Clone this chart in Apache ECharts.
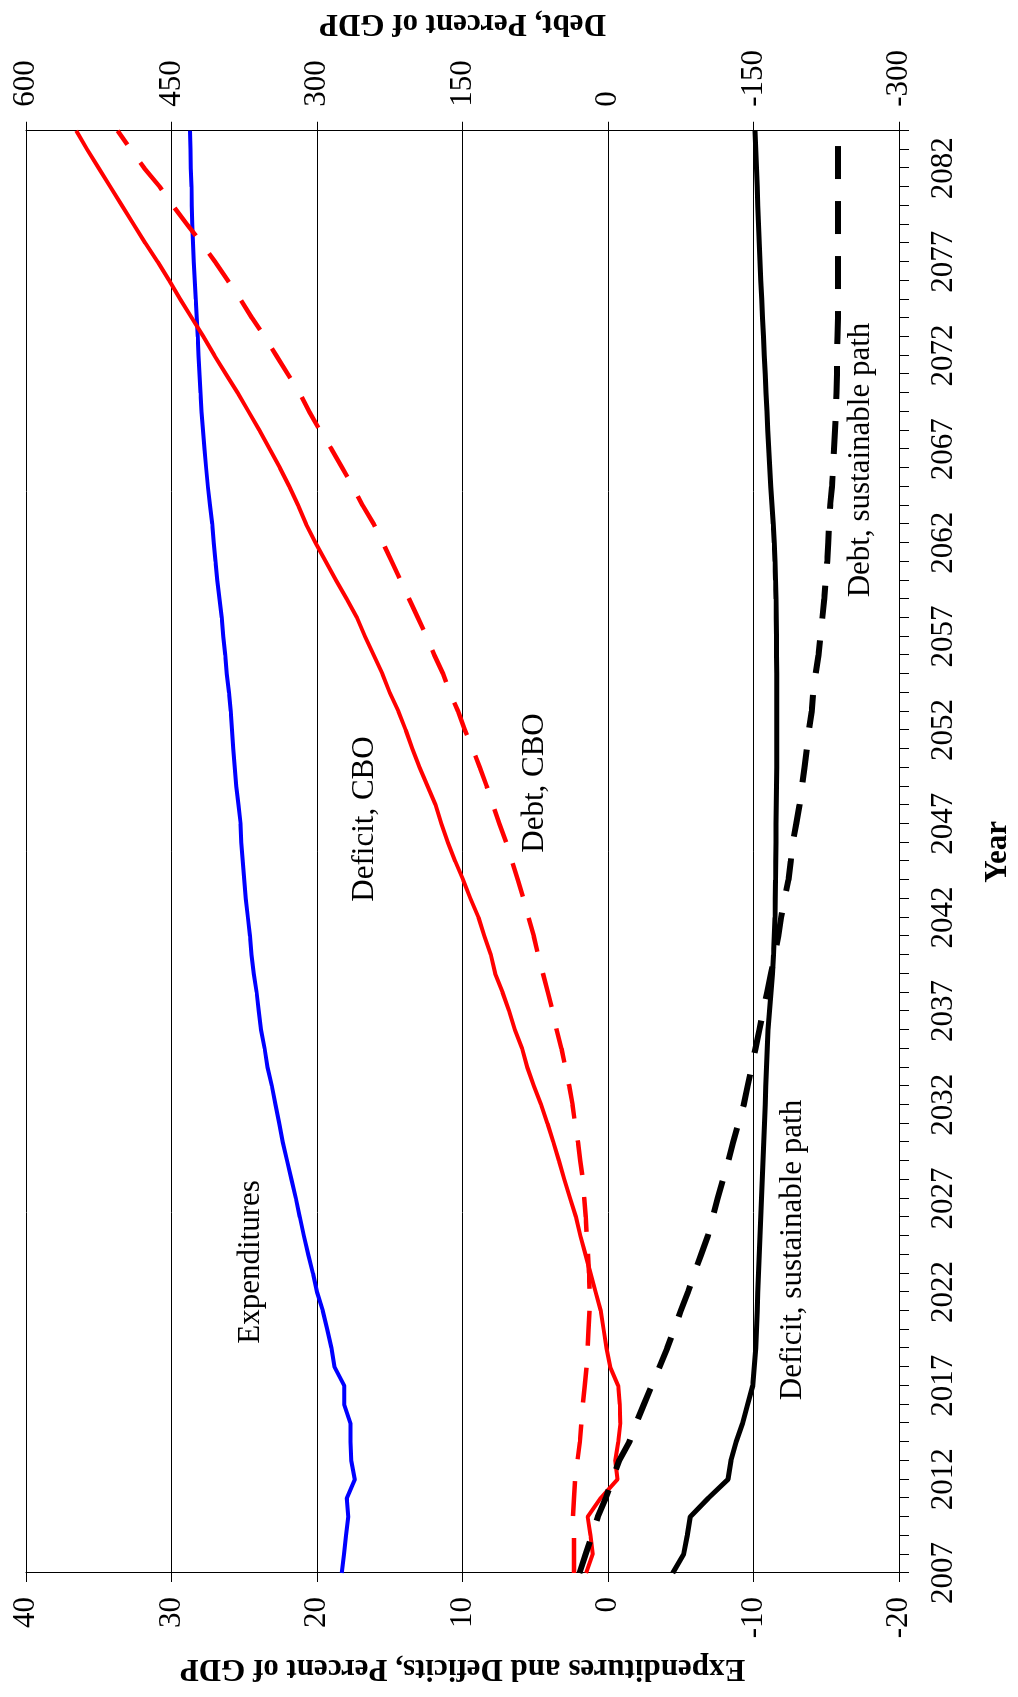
<!DOCTYPE html>
<html>
<head>
<meta charset="utf-8">
<script src="https://cdn.jsdelivr.net/npm/echarts@6/dist/echarts.min.js"></script>
<style>
html, body { margin: 0; padding: 0; background: #fff; width: 1018px; height: 1697px; overflow: hidden; }
#chart { position: absolute; left: 0; top: 0; width: 1697px; height: 1018px;
  transform-origin: 0 0; transform: translateY(1697px) rotate(-90deg); }
</style>
</head>
<body>
<div id="chart"></div>
<script>
// ---- categories ----
const years = ['2007','2008','2009','2010','2011','2012','2013','2014','2015','2016',
  '2017','2018','2019','2020','2021','2022','2023','2024','2025','2026',
  '2027','2028','2029','2030','2031','2032','2033','2034','2035','2036',
  '2037','2038','2039','2040','2041','2042','2043','2044','2045','2046',
  '2047','2048','2049','2050','2051','2052','2053','2054','2055','2056',
  '2057','2058','2059','2060','2061','2062','2063','2064','2065','2066',
  '2067','2068','2069','2070','2071','2072','2073','2074','2075','2076',
  '2077','2078','2079','2080','2081','2082','2083','2084'];

// ---- tick values ----
const pctTicks = [-20, -10, 0, 10, 20, 30, 40];
const debtTicks = [-300, -150, 0, 150, 300, 450, 600];

// ---- series (percent of GDP) ----
const expenditures = [18.3, 18.15, 18.0, 17.85, 17.95, 17.4, 17.65, 17.7, 17.7, 18.13,
  18.13, 18.8, 19.0, 19.3, 19.6, 20.0, 20.28, 20.6, 20.9, 21.18,
  21.45, 21.75, 22.05, 22.35, 22.6, 22.85, 23.1, 23.4, 23.6, 23.85,
  24.0, 24.15, 24.35, 24.5, 24.6, 24.75, 24.9, 25.0, 25.1, 25.2,
  25.25, 25.4, 25.55, 25.65, 25.75, 25.85, 25.92, 26.05, 26.2, 26.3,
  26.45, 26.55, 26.7, 26.85, 26.97, 27.1, 27.2, 27.35, 27.5, 27.62,
  27.73, 27.83, 27.93, 28.0, 28.08, 28.15, 28.2, 28.27, 28.33, 28.4,
  28.47, 28.52, 28.57, 28.6, 28.63, 28.67, 28.7, 28.73];

const deficitCBO = [1.5, 1.05, 1.2, 1.4, 0.5, -0.65, -0.5, -0.7, -0.85, -0.8,
  -0.7, -0.15, 0.1, 0.3, 0.5, 0.85, 1.2, 1.55, 1.9, 2.2,
  2.6, 3.0, 3.37, 3.75, 4.16, 4.6, 5.1, 5.55, 5.9, 6.4,
  6.8, 7.25, 7.75, 8.05, 8.5, 8.9, 9.45, 9.95, 10.5, 11.0,
  11.45, 11.85, 12.4, 12.95, 13.45, 13.9, 14.4, 15.0, 15.5, 16.1,
  16.7, 17.25, 17.95, 18.7, 19.4, 20.1, 20.75, 21.3, 21.9, 22.55,
  23.25, 23.95, 24.7, 25.45, 26.25, 27.05, 27.8, 28.6, 29.4, 30.15,
  30.95, 31.8, 32.6, 33.4, 34.2, 35.0, 35.8, 36.55];

const deficitSustainable = [-4.45, -5.2, -5.45, -5.65, -6.9, -8.25, -8.45, -8.8, -9.25, -9.6,
  -9.95, -10.05, -10.15, -10.2, -10.25, -10.3, -10.35, -10.4, -10.45, -10.5,
  -10.55, -10.6, -10.65, -10.7, -10.75, -10.8, -10.85, -10.9, -10.95, -11.0,
  -11.1, -11.2, -11.3, -11.38, -11.43, -11.48, -11.5, -11.52, -11.53, -11.54,
  -11.55, -11.56, -11.58, -11.6, -11.6, -11.6, -11.6, -11.6, -11.6, -11.58,
  -11.58, -11.56, -11.55, -11.52, -11.48, -11.42, -11.35, -11.27, -11.19, -11.12,
  -11.05, -10.98, -10.92, -10.86, -10.8, -10.74, -10.68, -10.62, -10.56, -10.5,
  -10.45, -10.4, -10.35, -10.3, -10.25, -10.2, -10.15, -10.1];

// ---- series (debt, percent of GDP) ----
const debtCBO = [35, 35, 35, 36, 35, 34, 31.5, 29, 27.5, 26,
  24, 22, 21, 20, 19, 19, 19.5, 20.5, 21.8, 23,
  24.5, 26, 28.5, 31, 34, 36.5, 40, 44, 48, 53,
  57, 62, 67, 72, 76.5, 82, 87, 93, 99, 105,
  112, 118.5, 125, 132, 139.5, 147.5, 154.5, 163, 170, 179,
  187, 196, 205, 214, 223, 232, 241.5, 253, 263, 274,
  285, 297, 308, 318, 330, 342, 354, 367, 379, 392,
  405, 419, 434, 448.5, 462, 478, 492, 505.5];

const debtSustainable = [29.4, 23, 16.5, 10.5, 2.3, -4.5, -11.5, -22, -29, -37,
  -45, -53, -61, -68, -75, -82.5, -89, -96, -103, -108,
  -113, -118.5, -124, -129, -134.5, -140, -144, -148, -152, -156,
  -160, -164, -168, -172, -175.5, -178.5, -182, -186, -188.5, -190.5,
  -194, -197.5, -200, -202.5, -205, -207, -210, -211.5, -214, -217,
  -219, -221, -223, -224.5, -226, -227, -228, -229, -231, -232,
  -233, -234, -235, -235.5, -236, -236, -236.5, -237, -237, -237,
  -237, -237, -237, -237, -237, -237, -237, -237];

const FONT = '"Liberation Serif", "Times New Roman", serif';
const FS = 31;

const chart = echarts.init(document.getElementById('chart'), null, { renderer: 'canvas' });
chart.setOption({
  animation: false,
  backgroundColor: '#ffffff',
  grid: { left: 124, right: 129, top: 26, bottom: 115, containLabel: false },
  xAxis: {
    type: 'category',
    data: years,
    boundaryGap: false,
    name: 'Year',
    nameLocation: 'middle',
    nameGap: 83,
    nameTextStyle: { fontFamily: FONT, fontSize: FS, fontWeight: 'bold', color: '#000' },
    axisLine: { show: true, onZero: false, lineStyle: { color: '#000', width: 1 } },
    axisTick: { show: true, interval: 0, length: 10, inside: false, lineStyle: { color: '#000', width: 1 } },
    axisLabel: { interval: 4, margin: 29, fontFamily: FONT, fontSize: FS, color: '#000' },
    splitLine: { show: false }
  },
  yAxis: [
    {
      type: 'value',
      position: 'left',
      min: pctTicks[0], max: pctTicks[pctTicks.length - 1], interval: pctTicks[1] - pctTicks[0],
      name: 'Expenditures and Deficits, Percent of GDP',
      nameLocation: 'middle',
      nameRotate: 90,
      nameGap: 80,
      nameTextStyle: { fontFamily: FONT, fontSize: FS, fontWeight: 'bold', color: '#000' },
      axisLine: { show: true, lineStyle: { color: '#000', width: 1 } },
      axisTick: { show: true, length: 9, lineStyle: { color: '#000', width: 1 } },
      axisLabel: { margin: 24, fontFamily: FONT, fontSize: FS, color: '#000' },
      splitLine: { show: true, lineStyle: { color: '#000', width: 1 } }
    },
    {
      type: 'value',
      position: 'right',
      min: debtTicks[0], max: debtTicks[debtTicks.length - 1], interval: debtTicks[1] - debtTicks[0],
      name: 'Debt, Percent of GDP',
      nameLocation: 'middle',
      nameRotate: 90,
      nameGap: 91,
      nameTextStyle: { fontFamily: FONT, fontSize: FS, fontWeight: 'bold', color: '#000' },
      axisLine: { show: true, lineStyle: { color: '#000', width: 1 } },
      axisTick: { show: true, length: 9, lineStyle: { color: '#000', width: 1 } },
      axisLabel: { margin: 24, fontFamily: FONT, fontSize: FS, color: '#000' },
      splitLine: { show: false }
    }
  ],
  series: [
    { name: 'Expenditures', type: 'line', yAxisIndex: 0, data: expenditures, showSymbol: false, silent: true,
      lineStyle: { color: '#0000ff', width: 4 } },
    { name: 'Deficit, CBO', type: 'line', yAxisIndex: 0, data: deficitCBO, showSymbol: false, silent: true,
      lineStyle: { color: '#ff0000', width: 4 } },
    { name: 'Debt, CBO', type: 'line', yAxisIndex: 1, data: debtCBO, showSymbol: false, silent: true,
      lineStyle: { color: '#ff0000', width: 4.5, type: [35, 22] } },
    { name: 'Deficit, sustainable path', type: 'line', yAxisIndex: 0, data: deficitSustainable, showSymbol: false, silent: true,
      lineStyle: { color: '#000000', width: 5 } },
    { name: 'Debt, sustainable path', type: 'line', yAxisIndex: 1, data: debtSustainable, showSymbol: false, silent: true,
      lineStyle: { color: '#000000', width: 6, type: [33, 22] } }
  ],
  graphic: [
    { type: 'text', x: 435, y: 251, style: { text: 'Expenditures', font: FS + 'px ' + FONT, fill: '#000', textAlign: 'center', textVerticalAlign: 'middle' } },
    { type: 'text', x: 878, y: 365, style: { text: 'Deficit, CBO', font: FS + 'px ' + FONT, fill: '#000', textAlign: 'center', textVerticalAlign: 'middle' } },
    { type: 'text', x: 914, y: 535, style: { text: 'Debt, CBO', font: FS + 'px ' + FONT, fill: '#000', textAlign: 'center', textVerticalAlign: 'middle' } },
    { type: 'text', x: 447, y: 793, style: { text: 'Deficit, sustainable path', font: FS + 'px ' + FONT, fill: '#000', textAlign: 'center', textVerticalAlign: 'middle' } },
    { type: 'text', x: 1237, y: 861, style: { text: 'Debt, sustainable path', font: FS + 'px ' + FONT, fill: '#000', textAlign: 'center', textVerticalAlign: 'middle' } }
  ]
});
</script>
</body>
</html>
